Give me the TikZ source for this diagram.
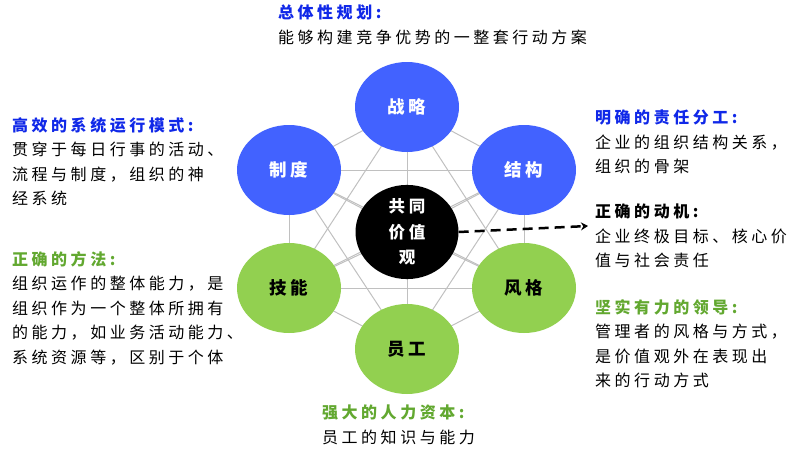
\documentclass[tikz,border=0pt]{standalone}
\usepackage{fontspec}
\setmainfont{Noto Sans CJK SC}[LetterSpace=22]
\usetikzlibrary{shapes.geometric,arrows.meta,backgrounds}

\definecolor{ballblue}{RGB}{66,98,255}
\definecolor{ballgreen}{RGB}{146,208,80}
\definecolor{headblue}{RGB}{16,40,232}
\definecolor{headgreen}{RGB}{98,168,48}
\definecolor{linkgray}{RGB}{192,192,192}

\begin{document}
\begin{tikzpicture}
[
	x=1pt, y=-1pt,
	ball/.style={ellipse,inner sep=0pt,minimum width=104pt,minimum height=90pt,font=\fontsize{17.5}{20}\selectfont\bfseries},
	blueball/.style={ball,fill=ballblue,text=white},
	greenball/.style={ball,fill=ballgreen,text=black},
	link/.style={draw=linkgray,line width=1pt},
	note/.style={anchor=north west,align=left,inner sep=0pt,font=\fontsize{16}{24.5}\selectfont}
]

	\useasboundingbox (0,0) rectangle (798,455);

	% the seven elements
	\node[ellipse,inner sep=0pt,minimum width=103pt,minimum height=78pt,fill=black,text=white,align=center,font=\fontsize{16.5}{25.5}\selectfont\bfseries] at (407,232) (shared) {共同\\价值\\观};
	\node[blueball] at (407,107) (strategy) {战略};
	\node[blueball] at (524,170) (structure) {结构};
	\node[blueball] at (289,170) (systems) {制度};
	\node[greenball] at (524,288) (style) {风格};
	\node[greenball] at (407,349) (staff) {员工};
	\node[greenball] at (289,288) (skills) {技能};

	% links
	\begin{scope}[on background layer]
		\foreach \u/\v in {shared/strategy, shared/structure, shared/style, shared/staff, shared/skills, shared/systems,
			strategy/structure, strategy/style, strategy/staff, strategy/skills, strategy/systems,
			structure/style, structure/staff, structure/skills, structure/systems,
			style/staff, style/skills, style/systems,
			staff/skills, staff/systems, skills/systems}
			\draw[link] (\u.center) -- (\v.center);
	\end{scope}

	% notes
	\node[note] at (278,5) (strategynote) {{\color{headblue}\bfseries 总体性规划:}\\能够构建竞争优势的一整套行动方案};
	\node[note] at (12,117) (systemsnote) {{\color{headblue}\bfseries 高效的系统运行模式:}\\贯穿于每日行事的活动、\\流程与制度，组织的神\\经系统};
	\node[note] at (12,251) (skillsnote) {{\color{headgreen}\bfseries 正确的方法:}\\组织运作的整体能力，是\\组织作为一个整体所拥有\\的能力，如业务活动能力、\\系统资源等，区别于个体};
	\node[note] at (595,110) (structurenote) {{\color{headblue}\bfseries 明确的责任分工:}\\企业的组织结构关系，\\组织的骨架};
	\node[note] at (595,204) (sharednote) {{\bfseries 正确的动机:}\\企业终极目标、核心价\\值与社会责任};
	\node[note] at (595,299) (stylenote) {{\color{headgreen}\bfseries 坚实有力的领导:}\\管理者的风格与方式，\\是价值观外在表现出\\来的行动方式};
	\node[note] at (322,405) (staffnote) {{\color{headgreen}\bfseries 强大的人力资本:}\\员工的知识与能力};

	% motive arrow
	\coordinate (motive) at (588,226);
	\draw[line width=2.5pt,dash pattern=on 10pt off 6pt,-{Stealth[length=7pt,width=8pt]}] (shared.east) -- (motive);

\end{tikzpicture}
\end{document}
